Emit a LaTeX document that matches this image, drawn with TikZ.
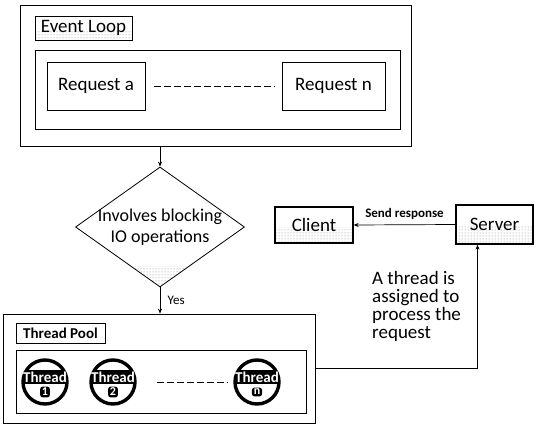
\documentclass[tikz,border=0pt]{standalone}
\usepackage{fontspec}
\setmainfont{Carlito}
\usetikzlibrary{shapes.geometric,arrows.meta,calc,patterns}

\tikzset{
  box/.style={draw, line width=0.8pt, inner sep=0pt},
  tagbox/.style={box, path picture={\fill[pattern=dots, pattern color=gray] (path picture bounding box.south west) rectangle ($(path picture bounding box.east)+(0,2)$);}},
  arr/.style={line width=0.7pt, -{Stealth[length=5pt,width=4pt]}},
  threadball/.style={circle, draw, line width=3.4pt, minimum size=44pt, inner sep=0pt,
    path picture={\fill ($(path picture bounding box.center)+(-30,-12)$) rectangle ($(path picture bounding box.center)+(30,2)$);}},
  threadtxt/.style={text=white, font=\bfseries\fontsize{15}{15}\selectfont, inner sep=0pt},
  threadnum/.style={fill=black, text=white, rounded corners=2.5pt, inner xsep=1.8pt, inner ysep=1.5pt, font=\bfseries\fontsize{12}{12}\selectfont}
}

\begin{document}
\begin{tikzpicture}[x=1pt,y=-1pt,font=\fontsize{19}{18}\selectfont]
\useasboundingbox (0,0) rectangle (541,428);

% event loop
\node at (215.5,75.5) [box, minimum width=391pt, minimum height=141pt] (loop) {};
\node at (83.5,28) [tagbox, minimum width=97pt, minimum height=24pt] (looplabel) {Event Loop};
\node at (217.5,89.5) [box, minimum width=365pt, minimum height=79pt] (reqbox) {};
\node at (96,86) [box, minimum width=98pt, minimum height=48pt] (reqa) {Request a};
\node at (333.5,86) [box, minimum width=103pt, minimum height=48pt] (reqn) {Request n};
\draw[line width=0.7pt, dash pattern=on 7pt off 3pt, shorten <=9pt, shorten >=7pt] (reqa) -- (reqn);

% decision
\node at (160,227) [box, shape=diamond, aspect=1.41, inner sep=-3pt, minimum width=169pt, minimum height=120pt, align=center,
  font=\fontsize{18}{21}\selectfont,
  path picture={\fill[pattern=dots, pattern color=gray] ($(path picture bounding box.south)+(-30,-20)$) rectangle ($(path picture bounding box.south)+(30,0)$);}]
  (blocking) {Involves blocking\\IO operations};
\draw[arr] (loop.south -| blocking.north) -- (blocking.north);

% thread pool
\node at (159,368.5) [box, minimum width=312pt, minimum height=109pt] (pool) {};
\node at (60.5,333) [box, minimum width=89pt, minimum height=20pt, font=\bfseries\fontsize{15}{17}\selectfont] (poollabel) {Thread Pool};
\node at (161,381.5) [box, minimum width=290pt, minimum height=63pt] (threadbox) {};
\draw[arr] (blocking.south) -- node[right, font=\fontsize{13}{14}\selectfont, xshift=4pt] {Yes} (blocking.south |- pool.north);

\node at (45,382) [threadball] (t1) {};
\node at (113,382) [threadball] (t2) {};
\node at (257,382) [threadball] (tn) {};
\node at ([yshift=4.5pt]t1.center) [threadtxt] (t1txt) {Thread};
\node at ([yshift=4.5pt]t2.center) [threadtxt] (t2txt) {Thread};
\node at ([yshift=4.5pt]tn.center) [threadtxt] (tntxt) {Thread};
\node at ([yshift=-10pt]t1.center) [threadnum] (t1num) {1};
\node at ([yshift=-10pt]t2.center) [threadnum] (t2num) {2};
\node at ([yshift=-10pt]tn.center) [threadnum] (tnnum) {n};
\draw[line width=0.7pt, dash pattern=on 7pt off 3pt, shorten <=20pt, shorten >=5pt] (t2) -- (tn);

% client / server
\node at (314,225) [tagbox, line width=1.3pt, minimum width=78pt, minimum height=36pt] (client) {Client};
\node at (494.5,224.5) [tagbox, line width=1.3pt, minimum width=77pt, minimum height=39pt] (server) {Server};
\draw[arr] (server.west) -- node[above, yshift=2pt, font=\bfseries\fontsize{13}{14}\selectfont] {Send response} (client.east);
\draw[arr] (pool.east) -| ([xshift=-17pt]server.south);
\node at (372,271) [anchor=north west, align=left, inner sep=0pt] (assign) {A thread is\\assigned to\\process the\\request};
\end{tikzpicture}
\end{document}
